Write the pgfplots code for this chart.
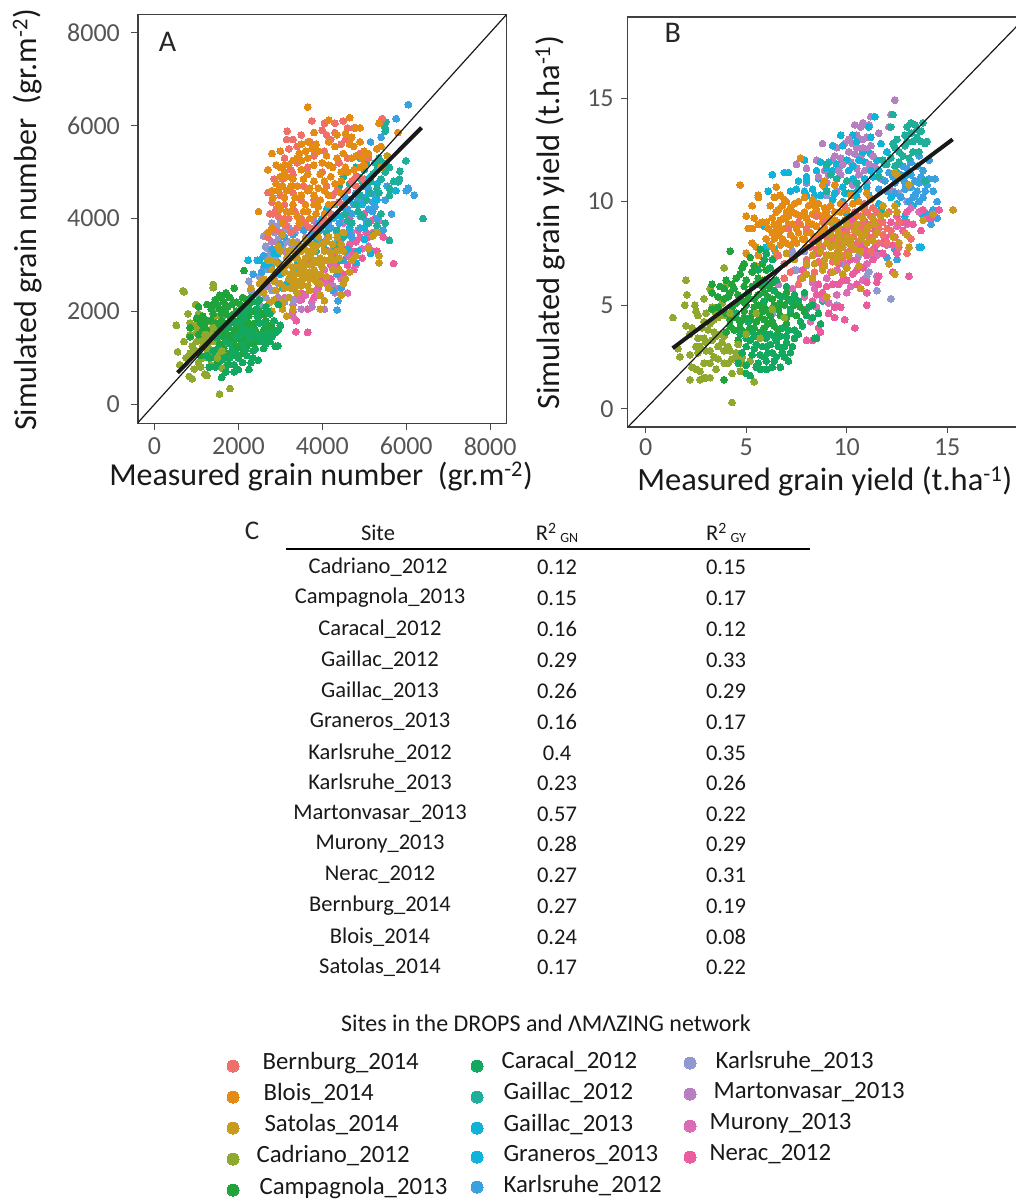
\documentclass[border=0pt]{standalone}
\usepackage{fontspec}
\setmainfont{Carlito}
\usepackage{pgfplots}
\pgfplotsset{compat=1.18}
\definecolor{cBer}{HTML}{EF6F6A}\definecolor{cBlo}{HTML}{E38B12}\definecolor{cSat}{HTML}{C89B1F}
\definecolor{cCad}{HTML}{8FA82E}\definecolor{cCam}{HTML}{1FA33A}\definecolor{cCar}{HTML}{12A85E}
\definecolor{cG12}{HTML}{1FAE9A}\definecolor{cG13}{HTML}{10B3D6}\definecolor{cGra}{HTML}{10B3DC}
\definecolor{cK12}{HTML}{3BA0E0}\definecolor{cK13}{HTML}{9098D0}\definecolor{cMar}{HTML}{B57FC0}
\definecolor{cMur}{HTML}{DB6BB5}\definecolor{cNer}{HTML}{EB5C9E}
\definecolor{tickgrey}{HTML}{555555}
\pgfplotsset{
 pt/.style={only marks,color=#1,mark=*,mark size=3.4pt,mark options={draw=#1,fill=#1,line width=0pt}},
 swatch/.style={only marks,color=#1,mark=*,mark size=6pt,mark options={draw=#1,fill=#1,line width=0pt}},
 panel/.style={scale only axis,axis line style={draw=black!75,line width=1.3pt},
  tick style={draw=black!70,line width=0.9pt},tick align=outside,major tick length=6.5pt,
  xtick pos=bottom,ytick pos=left,clip=true,clip mode=individual,
  /pgf/number format/assume math mode=true,/pgf/number format/set thousands separator={},
  tick label style={font=\fontsize{26}{30}\selectfont,text=tickgrey},
  label style={font=\fontsize{32.5}{38}\selectfont,anchor=center,text=black!90}},
}
\newcommand{\tb}[2]{\node[anchor=center,font=\fontsize{22.5}{26}\selectfont,text=black!90] at (axis cs:#1) {#2};}
\newcommand{\lgd}[2]{\node[anchor=west,font=\fontsize{24.8}{29}\selectfont,text=black!90] at (axis cs:#1) {#2};}
\begin{document}
\begin{tikzpicture}[x=1pt,y=1pt]
\path[use as bounding box] (0,0) rectangle (1016pt,1201pt);
\begin{axis}[panel,at={(137.9pt,777.7pt)},anchor=south west,width=368.5pt,height=409pt,
 xmin=-396,xmax=8387,ymin=-409,ymax=8396,xtick={0,2000,4000,6000,8000},ytick={0,2000,4000,6000,8000},
 yticklabel style={xshift=-8pt},xticklabel style={yshift=-4pt},
 label style={font=\fontsize{32}{38}\selectfont},
 xlabel={Measured grain number\ \ (gr.m\textsuperscript{-2})},ylabel={Simulated grain number\ \ (gr.m\textsuperscript{-2})},
 xlabel style={at={(axis description cs:0.497,-0.131)}},ylabel style={at={(axis description cs:-0.30,0.497)}}]
\addplot[pt=cNer] coordinates {(3370,1560)(3650,1550)(3380,1800)(5700,3030)(3300,2000)(3500,2400)(3650,2050)(2800,2000)(4300,3200)(4500,2800)(4600,3700)(4800,3500)(5000,4100)(5300,3300)(5450,3600)(5350,3700)(3900,2500)(4200,2700)(4450,3400)(4700,3300)(4900,3600)(4150,3300)(5050,3700)(4350,3700)(4650,4000)(5150,3950)(3700,3100)(3000,2200)(3800,2800)(4000,3100)(4750,2900)
(4650,3450)(4850,3750)(4950,3150)(5100,3600)(4350,2950)(4600,3000)(4200,3000)(4050,2700)(3900,2750)(5200,3300)(5250,4000)(4400,3500)(4750,3150)(3800,2300)(3500,2250)(3300,2500)};
\addplot[pt=cMur] coordinates {(3300,1900)(3450,2250)(3600,2350)(3750,2200)(3900,2350)(4100,2600)(4300,2500)(4450,2700)(4600,3200)(4800,3000)(4950,3350)(5100,3400)(5200,3700)(5350,3950)(4700,3700)(4500,3900)(3400,2300)(3850,2450)(4250,3000)(4050,2900)(3100,2300)(4600,2400)(4500,2650)};
\addplot[pt=cMar] coordinates {(2700,2550)(2950,2300)(2850,2700)(3050,2500)(3300,2150)(3500,2050)(3750,2100)(4050,2050)(4300,2400)(4250,2550)(3100,3300)(2800,3500)(3600,3600)(3800,3950)(4200,3300)(4400,3400)(4100,3550)};
\addplot[pt=cK13] coordinates {(2600,2500)(2250,2650)(2300,2450)(2500,2150)(2600,3620)(2650,3400)(2800,3900)(2850,3700)(3000,3900)(2950,3550)(2700,2900)(2900,3100)(2750,3250)(3150,3500)(3350,3700)(3300,3400)(3500,3900)(3200,3800)(3450,3300)(3650,3500)(2450,2350)(2950,2600)(3100,2200)(3300,2250)
(2500,2750)(2600,2950)(2700,3350)(2900,3800)(3050,3400)(3200,3500)(3400,3500)(3600,3800)(3750,3700)(2800,2450)(2650,2300)(3100,3750)};
\addplot[pt=cK12] coordinates {(6050,6450)(5760,6150)(5150,5650)(5400,5750)(6000,4600)(6050,4650)(6190,4500)(5500,4400)(5550,4700)(5650,4100)(5250,4500)(5100,4200)(4900,4050)(4700,4100)(4400,3900)(4200,3800)(4550,4450)(4800,4550)(5000,4700)(5300,4000)(5450,3750)(3950,3500)(3700,3600)(3450,3400)(3200,3150)(2950,3050)(2750,2900)(2450,3100)(4350,2030)(4370,2230)(4250,2450)(4450,2500)(4350,2800)(4500,3100)(4700,3600)(3900,3900)(5200,4350)
(3300,3650)(3550,3750)(3800,3700)(3950,3750)(4050,3850)(4150,3950)(4300,4050)(4500,4250)(4600,4200)(4750,4300)(4850,4400)(5000,4450)(5100,4650)(5250,4250)(4900,3800)(5050,3950)(5200,4150)(4650,3650)(2600,3200)(2800,3350)(3000,3450)(3100,3600)(2350,2800)(2550,2850)};
\addplot[pt=cG13] coordinates {(2780,3000)(2950,3250)(3200,3300)(3400,2850)(3000,2800)(3150,2600)(4600,3350)(4850,3300)(4300,4300)(4100,4200)(3850,3600)(5000,4850)(5300,4750)(5500,5100)(5750,4600)(4900,5300)(4650,4400)(4050,3350)(4300,3450)(5000,3800)(5150,3250)(2500,3100)(2230,3100)};
\addplot[pt=cGra] coordinates {(2620,3000)(3050,2500)(3500,2600)(3800,3450)(4250,4000)(4450,4050)(4650,3800)(4950,4300)(5150,4900)(5350,5250)(3400,3000)(2850,3250)(4550,3300)(4800,3050)(5000,3550)(5300,4400)(4000,4000)(5100,4550)};
\addplot[pt=cG12] coordinates {(6400,4000)(5600,3530)(5500,5950)(5510,6080)(5500,5880)(5990,5240)(5850,5020)(5840,4850)(5810,4790)(5600,4500)(5700,4800)(5600,5100)(5500,5000)(5400,4850)(5250,5200)(5000,5050)(4800,5100)(4500,4900)(4400,4700)(4800,4300)(4900,4500)(5150,4800)(5300,4650)(5100,3900)(5300,3850)(5500,3900)(4950,4050)(5200,3650)(4700,3900)(4300,3400)(4500,3600)(4400,3100)(4100,3700)(3850,3300)(5050,4400)(5600,4650)(4600,5000)(5350,5300)
(4650,4750)(4950,4800)(5200,4950)(5300,5050)(5450,5200)(5150,4550)(4550,4100)(4850,4150)(4350,3750)(4600,3950)(5400,4100)(5350,4550)(5050,5200)(4850,4900)};
\addplot[pt=cBer] coordinates {(3750,6100)(3160,5880)(4000,5900)(4050,6050)(4300,6050)(4500,6100)(4600,5950)(4750,5950)(4200,5700)(4450,5600)(4050,5450)(3800,5350)(3400,5550)(3200,5500)(3100,5300)(3400,5200)(3650,5100)(3300,4950)(2850,4850)(3050,4850)(2700,4560)(2800,4350)(2750,4100)(2830,4100)(3000,4500)(3100,4300)(3200,4000)(2850,3750)(2700,3600)(3250,3700)(3500,4000)(3700,3800)(4000,3900)(4200,4100)(4500,4300)(4700,4800)(4250,4500)(3800,4400)(3300,4550)(4400,5200)(4600,5300)(4000,5000)(3550,4700)(5430,6150)(5370,6050)(4900,5400)(5100,5300)(4800,4900)(3350,4150)(3100,4000)
(2950,4050)(3150,5700)(3300,5700)(3500,5800)(3700,5650)(4300,5850)(4550,5700)(4100,5800)(3250,5050)(3500,4400)(4100,4700)(4350,4600)(4600,4600)(2900,4200)(3000,3700)(3150,3850)(3400,3800)(3600,3900)(3850,3800)(4100,3950)(4400,4350)(4800,4700)(4950,4850)};
\addplot[pt=cBlo] coordinates {(3650,6400)(4150,6120)(4650,6170)(4900,5950)(4800,5950)(4550,5830)(3800,5850)(3500,5600)(3600,5450)(3750,5500)(3000,5450)(2800,5400)(2700,5050)(3200,5150)(3150,4900)(3500,5050)(3800,5150)(3950,4950)(3800,4800)(3550,4850)(3250,4700)(3050,4700)(3100,4450)(2800,4600)(2820,4450)(2950,4300)(2480,4150)(3350,4450)(3600,4300)(3800,4500)(4050,4600)(4300,4750)(4250,5100)(4450,5000)(4500,5400)(4750,5550)(4900,5650)(5100,5400)(4700,5300)(5300,5500)(5350,6050)(5800,5850)(5400,5550)(4950,5300)(3400,4050)(3650,4150)(3900,4250)(4150,4300)(3450,3900)(3700,4000)(3250,4150)(4450,4550)(4100,5350)(4300,5550)(3400,5300)(4550,5100)(4750,5050)(4900,5100)(2800,3800)(2700,3700)(3050,3900)
(2900,5150)(3000,5100)(3100,5000)(3300,5250)(3450,5400)(3650,5300)(3850,5600)(4000,5200)(4150,5150)(4050,4800)(4200,4900)(3400,4700)(3650,4600)(3900,4650)(3150,4600)(3300,4300)(3500,4500)(3700,4650)(3950,4400)(4150,4500)(3000,4200)(3150,4150)(3550,4150)(3800,4300)(4050,4100)(3850,4100)(3300,4850)(3650,4950)(4350,5300)(4650,5600)(4600,5000)(4800,5350)(4450,4800)(4250,4300)(3000,4900)(2900,4750)(2950,4600)(3500,5250)(3650,5650)(3900,5450)(4150,5650)(4350,5800)(4700,5750)(5000,5450)(5000,5150)(3100,5150)};
\addplot[pt=cSat] coordinates {(2600,2700)(2800,2900)(2700,3100)(2950,3400)(3050,3650)(2750,3100)(3200,2700)(3000,2600)(2900,2450)(2750,2200)(3050,2200)(3150,1900)(3300,2050)(3400,2400)(3200,2300)(3500,2550)(3700,2450)(3850,2650)(3950,2350)(3950,2050)(4050,2230)(3700,2700)(3500,2800)(3300,2950)(3150,3000)(3400,3150)(3600,3000)(3800,3100)(4000,2950)(3500,3300)(3650,3300)(3850,3400)(4050,3300)(4150,3100)(4250,3450)(4350,3300)(4450,3450)(4500,3700)(4150,3600)(3200,3300)(3300,3500)(3000,3300)(3450,2950)(3550,2700)(3250,2800)(3350,3150)(3600,3550)(4100,2750)(4250,2900)(4400,2900)(4500,2600)(4450,2350)(4550,2700)(4700,3100)(4800,3200)(5350,3200)(5350,3050)(5100,3350)(5200,3620)(5300,3700)(5400,5100)(5550,5350)(2500,2600)(2300,2500)(2800,2000)(3050,2050)
(3000,3000)(3100,2850)(3200,3100)(3300,2650)(3350,2800)(3450,2650)(3550,2900)(3600,2750)(3650,2550)(3700,2850)(3750,3000)(3800,2900)(3850,2800)(3900,3050)(3950,2800)(3400,2550)(3500,3050)(3600,3150)(3700,3200)(3800,3300)(3950,3150)(4050,3100)(3300,3300)(3450,3450)(3550,3400)(3750,3450)(3900,3600)(4000,3450)(4100,3500)(4200,3250)(4300,3100)(4400,3150)(3100,2500)(3250,2500)(2850,2650)(3150,3150)(2900,3050)(4350,3600)(4500,3300)(3950,2600)(4150,2500)(4650,2850)(2600,2400)(2850,2250)};
\addplot[pt=cCad] coordinates {(520,1700)(550,1130)(600,850)(710,2420)(680,2440)(800,1950)(830,600)(900,550)(950,760)(980,2150)(850,1500)(900,1250)(1000,1700)(1050,1950)(1100,1400)(1150,1000)(1200,650)(1250,620)(1300,1200)(1250,1550)(1300,1800)(1400,2050)(1400,2580)(1400,2510)(1350,850)(1450,1350)(1500,1600)(1550,1050)(1600,780)(1550,220)(1800,340)(1650,1300)(1700,1600)(1600,1850)(1700,1100)(1750,900)(1200,1450)(1100,1650)(950,1100)(1000,1350)(1450,1900)(1350,1000)
(700,1350)(850,1750)(1000,1550)(1150,1250)(1100,800)(1050,900)(1250,1100)(1350,1350)(1450,1150)(1150,1750)(750,1000)(850,1100)(1550,1450)(1300,1600)(1700,800)(2000,1000)(2300,1400)};
\addplot[pt=cCam] coordinates {(1900,2500)(1700,2400)(1550,2350)(1800,2300)(1650,2200)(1450,2250)(1250,2150)(1050,2100)(1350,2050)(1550,2050)(1750,2100)(1950,2200)(2100,2300)(1950,2000)(2150,2100)(2300,2200)(1150,1900)(1350,1800)(1600,1800)(1800,1900)(2000,1800)(2250,1900)(2500,2000)(850,1650)(1200,1650)(1450,1550)(1700,1600)(1900,1600)(2150,1700)(2400,1750)(2650,1800)(850,1450)(1050,1500)(1550,1300)(1800,1400)(2050,1400)(2300,1500)(2600,1600)(2800,1650)(1950,1200)(2200,1250)(2450,1350)(2130,2880)(1800,1750)(1600,1950)(2050,1600)(2250,1650)(1650,1450)(1900,1300)(2100,1100)(1100,1050)(1750,1000)(1500,900)
(1000,1850)(1100,1750)(1250,1800)(1400,1950)(1500,1700)(1350,1600)(1450,1750)(1600,1650)(1750,1750)(1850,1850)(1900,1950)(2050,1900)(2150,1950)(2350,2000)(1700,1950)(1500,2150)(1850,2150)(2050,2150)(2200,2250)(1650,2050)(1600,2300)(1400,2150)(1150,1600)(1450,1450)(1600,1500)(1750,1500)(1850,1500)(2000,1700)(2100,1550)(2200,1800)(2300,1700)(2400,1600)(2500,1500)(1500,1200)(1650,1200)(1800,1100)(1900,1050)(2050,1250)(2150,1450)(2350,1300)(2500,1900)(2700,1700)(2600,1950)};
\addplot[pt=cCar] coordinates {(2940,1260)(2880,1250)(2650,1300)(2600,1200)(2470,950)(2350,1150)(2200,1050)(2100,900)(2000,750)(1900,700)(1750,850)(1600,580)(1650,1050)(1300,800)(1450,800)(2100,1300)(2400,1450)(2550,1500)(2800,1450)(2900,1550)(2950,1600)(2850,1800)(2650,2100)(2500,2250)(2250,2050)(2000,1950)(1750,1650)(1500,1450)(1250,1050)(1850,1150)(2250,1400)(2500,1750)(2750,1950)(2150,1850)(1950,1100)(2300,900)(2050,1500)(1800,1300)(1550,1200)(2350,1000)(2650,1400)(2450,2050)(2950,2150)
(1300,1000)(1450,1000)(1600,950)(1700,700)(1800,1000)(1900,850)(2000,1000)(2150,1150)(2250,750)(2400,1200)(2550,1350)(2700,1550)(2600,1750)(2350,1600)(2450,1900)(2150,2000)(1900,1750)(2050,1750)(2200,1550)(1950,1450)(1700,1350)(1400,1150)(2750,1350)(2850,1550)(2700,2000)(2300,2300)(2450,2200)(3000,1700)(2100,1650)};
\addplot[pt=cCad] coordinates {(1200,1500)(1300,1400)(1400,1650)(1150,1350)(1000,1150)(1350,1500)(1500,1000)(1250,1300)(1600,1150)};
\addplot[black!90,line width=1.2pt] coordinates {(-396,-396)(8387,8387)};
\addplot[black!90,line width=4pt] coordinates {(548,680)(6365,5955)};
\node[font=\fontsize{30}{34}\selectfont,text=black!85] at (axis cs:310,7800) {A};
\end{axis}
\begin{axis}[panel,at={(627.7pt,774pt)},anchor=south west,width=403.9pt,height=410pt,
 xmin=-0.896,xmax=19.2,ymin=-0.884,ymax=18.91,xtick={0,5,10,15},ytick={0,5,10,15},
 yticklabel style={xshift=-4pt},xticklabel style={yshift=-2pt},
 xlabel={Measured grain yield (t.ha\textsuperscript{-1})},ylabel={Simulated grain yield (t.ha\textsuperscript{-1})},
 xlabel style={at={(axis description cs:0.488,-0.132)}},ylabel style={at={(axis description cs:-0.192,0.498)}}]
\addplot[pt=cMar] coordinates {(12.4,14.9)(11.2,14.1)(11.1,13.7)(10.8,13.8)(10.4,13.7)(10.7,13.6)(10.5,13.2)(10.6,13.0)(12.2,14.2)(12.1,13.6)(11.6,13.3)(11.0,13.1)(10.3,12.8)(9.5,12.6)(8.8,12.8)(8.5,12.0)(8.9,11.5)(9.3,12.0)(9.7,12.1)(10.1,12.4)(10.5,12.6)(11.0,12.5)(10.7,12.2)(10.2,11.9)(9.7,11.3)(10.5,11.6)(10.9,11.5)(11.4,11.7)(7.5,11.8)(8.0,11.6)(8.0,10.9)(9.0,10.9)(9.5,10.5)(10.3,10.8)(11.0,10.9)(11.7,11.1)(12.3,10.5)(7.3,7.3)(6.6,6.0)(7.4,6.7)(11.5,6.4)};
\addplot[pt=cK13] coordinates {(12.2,5.3)(11.5,5.7)(9.5,5.0)(11.1,6.6)(11.0,6.4)(7.9,7.6)(7.3,7.6)(6.4,7.3)(7.5,6.7)(7.9,6.5)(8.0,6.9)(9.8,7.0)(10.6,7.4)(11.2,7.5)(13.0,10.0)(12.6,10.4)(8.4,10.0)(9.0,10.3)(8.8,9.3)(6.3,4.6)(6.0,6.2)};
\addplot[pt=cK12] coordinates {(14.3,9.6)(14.5,10.0)(14.5,9.2)(14.2,8.9)(14.0,9.4)(13.6,7.8)(12.5,7.2)(12.0,7.3)(14.4,11.1)(14.1,11.1)(13.6,10.9)(13.9,10.5)(14.3,10.5)(13.8,11.5)(14.1,12.0)(13.5,11.7)(13.2,11.3)(12.8,11.1)(12.9,10.6)(12.4,10.9)(12.0,10.5)(11.9,11.0)(11.6,10.6)(13.4,10.3)(13.1,10.0)(13.6,10.0)(13.2,11.9)(12.8,11.7)
(12.4,10.4)(12.7,10.2)(12.9,10.9)(13.2,10.7)(13.4,11.0)(13.7,11.2)(13.5,10.5)(13.8,10.2)(14.0,10.8)(13.3,10.2)(13.0,11.6)(13.6,12.2)(12.7,11.3)(12.3,11.2)(12.1,11.4)};
\addplot[pt=cG13] coordinates {(6.3,11.3)(7.1,11.4)(7.9,12.0)(8.0,11.2)(7.6,11.0)(7.5,10.6)(7.2,10.5)(8.7,11.9)(9.3,11.5)(9.5,11.8)(9.3,12.7)(9.7,13.2)(10.5,12.9)(10.3,13.2)(11.1,13.6)(11.4,14.1)(11.2,13.1)(11.7,12.8)(11.2,12.3)(11.5,12.0)(10.9,11.9)(10.3,11.1)(9.8,10.7)(10.6,10.6)(11.1,10.3)(8.3,10.6)(8.7,10.3)(9.3,10.1)(9.8,10.0)(10.5,10.2)(6.1,10.5)(6.3,9.2)(5.9,8.8)(6.0,7.8)(6.4,7.7)
(8.6,11.1)(9.0,11.6)(9.6,11.6)(10.0,12.0)(10.1,11.5)(10.3,11.7)(10.8,12.4)(10.9,11.1)(11.3,11.2)(11.0,10.7)(10.4,10.4)(9.9,10.4)(9.4,10.4)(8.9,10.7)(8.4,10.3)(8.0,10.3)(11.6,11.5)(11.9,11.8)(12.0,12.4)};
\addplot[pt=cMar] coordinates {(9.9,12.8)(10.1,13.0)(10.8,13.0)(10.4,12.3)(10.8,12.6)(11.2,12.7)(11.3,12.2)(9.8,11.8)(9.4,12.2)(9.1,11.3)(9.6,11.5)(10.6,11.3)(11.1,11.8)(8.6,11.2)};
\addplot[pt=cGra] coordinates {(8.0,11.0)(8.5,11.5)(7.9,10.5)(9.1,11.9)(9.8,12.7)(10.6,12.0)(11.2,11.5)(12.2,10.2)(10.0,9.4)(9.5,9.0)(12.5,9.9)(12.9,9.3)(13.3,9.8)(13.8,9.3)(12.4,7.7)(13.7,7.8)(13.0,11.3)(12.5,11.4)(6.9,11.4)(11.6,9.9)};
\addplot[pt=cG12] coordinates {(12.3,14.2)(12.2,13.6)(13.0,13.6)(13.2,13.8)(13.4,13.7)(13.8,13.8)(13.5,13.5)(12.9,13.2)(12.5,13.0)(13.0,12.9)(13.5,13.1)(13.9,12.8)(14.0,12.9)(13.7,12.9)(12.3,12.8)(12.6,12.4)(12.2,12.1)(12.8,12.2)(13.3,12.4)(12.4,11.7)(11.6,11.2)(10.1,10.4)(9.5,11.1)(9.0,10.5)(9.2,11.3)(11.7,9.6)(11.5,7.5)(8.8,5.2)(13.9,11.0)
(12.4,12.6)(12.9,12.7)(13.3,12.9)(13.6,12.4)(13.1,12.1)(12.6,11.9)(12.0,11.8)(11.8,12.0)(13.7,13.4)(13.2,13.3)(10.5,10.9)(10.0,11.0)(9.0,11.8)};
\addplot[pt=cBlo] coordinates {(4.7,10.8)(5.6,10.2)(5.6,10.3)(5.3,9.8)(6.5,10.7)(6.7,10.3)(6.4,10.2)(6.9,10.1)(7.7,12.1)(5.0,9.3)(5.4,9.2)(5.1,8.7)(5.3,8.7)(5.6,8.9)(5.8,9.0)(5.3,8.0)(5.5,7.8)(5.0,7.5)(5.6,7.4)(6.2,9.8)(6.5,9.5)(6.8,9.8)(7.2,9.7)(7.6,10.0)(7.9,10.2)(8.3,10.1)(8.6,9.9)(8.9,9.7)(6.3,9.2)(6.7,9.1)(7.1,9.3)(7.5,9.4)(7.9,9.5)(8.3,9.4)(8.7,9.3)(9.1,9.2)(6.1,8.7)(6.5,8.6)(6.9,8.7)(7.3,8.9)(7.7,8.9)(8.1,9.0)(8.5,8.8)(8.9,8.7)(6.0,8.2)(6.4,8.2)(6.8,8.2)(7.2,8.4)(7.6,8.5)(8.0,8.5)(8.4,8.3)(6.3,7.8)(6.7,7.9)(7.2,7.9)(5.5,6.9)(5.8,6.2)(6.5,7.5)(8.8,10.8)(8.9,11.0)(9.4,10.8)(10.2,10.3)(10.6,10.0)(10.9,9.6)(11.2,10.1)(11.0,10.4)(9.7,9.5)(9.4,9.1)(10.1,9.1)(10.5,9.3)
(6.0,9.0)(6.3,8.5)(6.6,8.9)(6.9,9.2)(7.1,8.9)(7.3,9.5)(7.5,8.7)(7.7,9.3)(7.9,8.2)(8.0,9.2)(8.2,8.5)(8.3,8.9)(8.5,9.6)(8.7,8.5)(8.8,9.0)(9.0,9.5)(6.4,8.9)(6.6,8.4)(6.2,7.9)(6.7,8.6)(7.0,8.0)(7.4,8.2)(7.5,8.0)(7.8,8.2)(7.0,9.5)(6.6,9.6)(7.4,9.9)(7.0,10.0)(8.1,9.8)(8.4,9.8)(8.9,9.4)(9.2,9.8)(9.4,9.5)(9.7,9.9)(10.0,9.6)(10.3,9.9)(8.0,7.8)};
\addplot[pt=cMur] coordinates {(8.0,4.8)(8.2,4.2)(8.5,4.9)(8.8,5.3)(9.1,5.1)(9.5,5.5)(10.0,5.6)(10.2,5.9)(9.0,6.3)(9.5,6.7)(10.0,7.0)(10.5,7.2)(11.0,7.0)(11.5,7.4)(12.0,7.9)(12.5,8.8)(13.0,8.9)(8.3,6.1)(7.7,6.3)(7.3,5.8)(7.9,5.4)(8.4,5.8)(10.8,6.2)(13.2,9.7)(13.6,9.5)};
\addplot[pt=cNer] coordinates {(10.4,3.9)(9.9,4.3)(8.3,3.3)(8.6,3.9)(8.7,3.7)(9.1,4.6)(9.4,4.4)(9.4,4.9)(9.7,4.9)(10.5,6.0)(11.0,5.0)(11.0,5.6)(11.5,6.1)(11.6,6.4)(12.3,6.6)(13.1,6.4)(13.2,8.2)(13.7,8.6)(14.0,9.2)(14.2,9.2)(14.6,9.6)(13.8,9.6)(13.3,8.9)(12.8,8.6)(12.3,7.9)(11.8,7.5)(11.3,7.2)(10.8,6.8)(10.3,6.5)(9.8,6.2)(9.3,6.0)(8.8,5.6)(8.3,5.2)(7.8,6.7)(8.6,7.5)(9.2,8.0)(9.8,8.6)(10.3,9.1)(10.9,9.0)(11.4,8.6)(11.9,8.2)(12.5,9.3)(13.0,9.5)(8.0,3.3)
(9.6,6.0)(10.0,6.2)(10.5,6.7)(11.0,7.4)(11.4,7.8)(11.8,8.0)(12.2,8.4)(12.7,9.0)(12.2,9.0)(13.0,9.0)(8.6,6.0)(9.2,6.6)(9.0,5.9)(8.5,5.5)(9.6,7.0)(10.2,7.2)(10.7,7.9)(10.9,7.7)(12.5,7.5)(11.0,6.1)};
\addplot[pt=cBer] coordinates {(6.6,7.4)(6.9,7.0)(7.2,6.6)(6.9,6.3)(7.6,6.0)(8.0,7.2)(8.2,7.8)(8.6,8.2)(9.0,8.3)(9.3,8.7)(9.6,8.0)(10.0,8.5)(10.4,8.8)(10.8,8.9)(11.2,9.3)(11.5,9.0)(11.1,8.3)(10.6,8.1)(10.2,7.7)(9.8,7.3)(9.3,7.1)(8.8,6.9)(8.4,6.6)(8.0,8.7)(7.6,9.0)(7.1,8.7)(8.5,9.3)(8.9,9.0)(9.9,9.8)(10.4,9.5)(10.9,9.9)(11.3,9.7)(12.1,9.5)(12.6,9.0)(12.9,8.5)(13.2,8.2)(12.4,8.3)(12.0,8.7)(11.6,8.0)(11.2,7.6)(13.0,7.5)(12.6,7.8)
(8.3,8.1)(8.5,7.7)(8.8,7.8)(9.1,8.2)(9.4,8.2)(9.7,8.4)(9.9,8.2)(10.1,8.8)(10.3,8.3)(10.5,8.5)(10.7,8.7)(11.0,8.6)(11.2,8.9)(11.4,8.4)(11.6,8.7)(11.8,8.4)(12.0,8.0)(12.2,8.6)(10.7,9.3)(11.0,9.5)(11.5,9.5)(11.8,9.0)(10.4,7.9)(10.0,7.5)(9.5,7.5)(9.0,7.4)(8.6,7.1)};
\addplot[pt=cSat] coordinates {(15.3,9.6)(14.3,9.4)(13.8,9.1)(12.4,6.5)(12.1,7.0)(13.1,7.8)(13.0,8.4)(12.6,8.0)(12.3,8.3)(12.0,9.4)(12.4,9.8)(12.5,9.5)(11.8,9.8)(12.4,11.4)(12.5,11.3)(13.1,10.8)(7.0,7.5)(7.4,7.2)(8.0,7.0)(8.3,7.4)(8.7,7.6)(8.9,7.2)(9.2,7.8)(9.6,7.7)(9.9,8.0)(10.2,8.2)(10.6,8.5)(11.0,8.7)(11.4,8.9)(11.7,9.3)(9.2,8.4)(9.6,8.5)(10.0,8.9)(10.5,8.9)(9.5,7.1)(10.0,6.8)(9.8,6.5)(10.6,6.9)(9.3,6.6)(8.8,6.7)(8.3,6.3)(7.8,6.3)(10.7,5.8)(9.0,5.4)(11.0,8.0)(10.7,7.6)
(8.6,8.0)(9.0,8.0)(9.4,7.9)(9.6,8.2)(9.8,7.8)(10.0,8.3)(10.2,7.9)(10.4,8.6)(10.7,8.2)(10.9,8.4)(11.1,8.8)(11.3,8.1)(11.5,8.5)(9.4,7.4)(9.7,7.4)(10.1,7.4)(10.4,7.7)(8.9,6.9)(9.1,7.4)(8.4,7.0)(8.0,6.5)(9.6,8.8)(9.2,9.0)(9.9,9.1)(10.8,9.2)(11.3,9.2)};
\addplot[pt=cCad] coordinates {(1.35,4.4)(2.0,6.2)(2.05,5.5)(1.95,5.0)(2.45,5.0)(2.9,5.3)(2.5,4.7)(2.0,4.0)(2.3,3.9)(2.6,4.5)(3.0,4.6)(3.2,5.8)(1.6,2.9)(1.7,2.5)(2.2,2.6)(2.5,3.0)(2.6,2.7)(3.2,2.8)(2.3,2.0)(2.5,1.9)(2.7,1.8)(2.9,1.5)(2.2,1.4)(2.7,1.4)(3.0,1.5)(2.9,2.2)(3.2,2.2)(3.6,2.4)(3.5,1.9)(4.3,0.3)(5.4,1.3)(4.7,1.8)(4.3,1.7)(3.1,3.8)(3.5,3.5)(3.8,3.2)(4.1,3.0)(3.4,4.3)(3.9,4.5)(2.9,3.4)(3.6,3.0)(4.3,2.4)(4.8,2.5)(5.2,2.3)(4.6,3.2)(3.8,5.1)(4.0,6.0)(3.9,6.8)(3.3,4.9)
(2.2,3.6)(2.6,3.4)(2.8,3.9)(3.0,3.2)(3.3,3.3)(3.4,3.7)(3.7,3.6)(3.9,3.5)(2.9,4.2)(3.2,4.1)(3.5,4.6)(2.7,3.0)(3.0,2.8)(3.4,2.5)(3.9,2.8)(4.2,2.8)(4.5,2.7)(4.6,2.4)(3.9,2.2)(4.1,2.2)(4.8,2.2)(3.2,1.5)};
\addplot[pt=cCam] coordinates {(4.2,7.6)(4.9,7.0)(5.2,7.3)(5.8,7.0)(6.0,6.7)(4.7,6.5)(5.3,6.6)(5.6,6.3)(4.0,6.2)(3.3,6.0)(3.3,5.6)(4.4,5.8)(4.9,5.9)(5.3,5.9)(5.8,5.9)(6.2,5.8)(3.6,5.4)(4.1,5.4)(4.6,5.5)(5.1,5.3)(5.6,5.5)(6.1,5.4)(6.6,5.5)(7.0,5.6)(3.3,4.8)(4.3,4.9)(4.9,4.7)(5.4,4.9)(5.9,4.9)(6.4,5.0)(6.9,5.0)(7.4,5.0)(7.7,4.9)(4.2,4.3)(4.7,4.2)(5.2,4.4)(5.7,4.4)(6.2,4.5)(6.7,4.5)(7.2,4.6)(4.4,3.8)(4.9,3.7)(5.4,3.9)(5.9,3.9)(6.4,4.0)(7.0,4.1)(3.9,1.4)(4.0,3.7)(4.6,3.3)
(3.6,4.9)(3.9,5.3)(4.2,5.6)(4.5,5.1)(4.8,5.2)(5.1,5.6)(5.4,5.3)(5.6,5.0)(5.9,5.6)(6.3,5.3)(6.7,5.1)(7.1,5.3)(7.4,5.3)(4.0,4.6)(4.5,4.4)(4.9,4.4)(5.3,4.6)(5.5,4.2)(5.9,4.3)(6.3,4.2)(6.6,4.8)(7.0,4.4)(7.5,4.5)(7.9,4.7)(4.2,4.0)(4.7,3.9)(5.2,3.9)(5.7,3.7)(6.1,4.1)(6.6,3.8)(4.5,6.3)(5.0,6.2)(5.5,6.0)(5.9,6.2)(6.3,6.1)(4.3,6.0)(3.7,5.9)(3.9,5.8)(4.8,6.8)(5.4,6.9)(5.0,5.0)(5.8,4.7)(6.1,4.7)};
\addplot[pt=cCar] coordinates {(5.2,1.6)(5.0,1.7)(5.0,2.1)(4.6,2.2)(5.5,2.0)(5.7,1.9)(6.0,1.9)(6.3,2.0)(6.7,2.0)(7.1,2.3)(6.5,2.5)(6.0,2.3)(5.7,2.6)(5.3,2.6)(6.1,2.7)(6.8,2.7)(6.9,3.0)(7.3,3.0)(7.4,3.4)(7.0,3.5)(6.5,3.3)(6.0,3.0)(5.5,3.1)(5.0,3.0)(5.6,3.5)(6.2,3.6)(6.8,3.9)(7.6,3.6)(8.4,3.4)(8.5,3.4)(8.3,4.4)(8.6,4.6)(8.7,4.1)(8.0,4.5)(7.9,5.6)(7.4,5.5)(7.0,5.9)(6.5,6.2)(6.2,6.8)(5.7,7.7)(6.0,7.5)(6.3,7.2)(7.7,4.2)(7.2,4.8)(5.9,5.2)(5.1,4.2)(4.5,4.6)
(4.8,2.7)(5.2,3.3)(5.4,2.9)(5.8,3.0)(6.2,3.1)(6.6,3.0)(6.3,2.7)(5.9,2.5)(5.6,2.2)(6.4,2.3)(6.9,2.5)(7.2,2.7)(7.0,3.2)(6.7,3.5)(6.0,3.4)(5.4,3.5)(5.0,3.4)(4.7,3.6)(5.3,3.7)(5.9,3.6)(6.4,3.5)(7.1,3.8)(7.4,3.8)(7.8,4.0)(8.1,4.9)(8.3,5.0)(7.6,5.2)(7.2,5.2)(6.8,5.4)(6.4,5.7)(6.0,6.0)(5.6,6.7)(5.9,7.2)};
\addplot[pt=cCad] coordinates {(4.2,4.6)(3.6,4.4)(5.0,3.6)(5.5,4.6)(6.3,4.8)(6.9,4.4)(5.7,3.4)(4.6,3.1)};
\addplot[black!90,line width=1.2pt] coordinates {(-0.884,-0.884)(18.91,18.91)};
\addplot[black!90,line width=4pt] coordinates {(1.34,2.92)(15.27,13.0)};
\node[font=\fontsize{30}{34}\selectfont,text=black!85] at (axis cs:1.35,18.15) {B};
\end{axis}
\begin{axis}[hide axis,scale only axis,at={(0pt,0pt)},anchor=south west,width=1016pt,height=1201pt,
 xmin=0,xmax=1016,ymin=0,ymax=1201,y dir=reverse,clip=false]
\addplot[black,line width=1.2pt] coordinates {(286,549)(810,549)};
\node[font=\fontsize{27}{32}\selectfont,text=black!85] at (axis cs:252,531) {C};
\tb{378,533}{Site}\tb{557,533}{R\textsuperscript{2}\,{\fontsize{14}{16}\selectfont\raisebox{-2pt}{GN}}}\tb{726,533}{R\textsuperscript{2}\,{\fontsize{14}{16}\selectfont\raisebox{-2pt}{GY}}}
\tb{378,567}{Cadriano\_2012}\tb{557,567}{0.12}\tb{726,567}{0.15}
\tb{380,598}{Campagnola\_2013}\tb{557,598}{0.15}\tb{726,598}{0.17}
\tb{380,629}{Caracal\_2012}\tb{557,629}{0.16}\tb{726,629}{0.12}
\tb{380,660}{Gaillac\_2012}\tb{557,660}{0.29}\tb{726,660}{0.33}
\tb{380,691}{Gaillac\_2013}\tb{557,691}{0.26}\tb{726,691}{0.29}
\tb{380,722}{Graneros\_2013}\tb{557,722}{0.16}\tb{726,722}{0.17}
\tb{380,753}{Karlsruhe\_2012}\tb{557,753}{0.4}\tb{726,753}{0.35}
\tb{380,783}{Karlsruhe\_2013}\tb{557,783}{0.23}\tb{726,783}{0.26}
\tb{380,814}{Martonvasar\_2013}\tb{557,814}{0.57}\tb{726,814}{0.22}
\tb{380,844}{Murony\_2013}\tb{557,844}{0.28}\tb{726,844}{0.29}
\tb{380,875}{Nerac\_2012}\tb{557,875}{0.27}\tb{726,875}{0.31}
\tb{380,906}{Bernburg\_2014}\tb{557,906}{0.27}\tb{726,906}{0.19}
\tb{380,937}{Blois\_2014}\tb{557,937}{0.24}\tb{726,937}{0.08}
\tb{380,967}{Satolas\_2014}\tb{557,967}{0.17}\tb{726,967}{0.22}
\node[font=\fontsize{24}{28}\selectfont,text=black!90] at (axis cs:546,1023) {Sites in the DROPS and ΛMΛZING network};
\addplot[swatch=cBer] coordinates {(233,1066)};\addplot[swatch=cBlo] coordinates {(233,1097)};\addplot[swatch=cSat] coordinates {(233,1128)};\addplot[swatch=cCad] coordinates {(233,1159)};\addplot[swatch=cCam] coordinates {(233,1190)};
\addplot[swatch=cCar] coordinates {(477,1066)};\addplot[swatch=cG12] coordinates {(477,1097)};\addplot[swatch=cG13] coordinates {(477,1128)};\addplot[swatch=cGra] coordinates {(477,1157)};\addplot[swatch=cK12] coordinates {(477,1187)};
\addplot[swatch=cK13] coordinates {(690,1063)};\addplot[swatch=cMar] coordinates {(690,1094)};\addplot[swatch=cMur] coordinates {(690,1126)};\addplot[swatch=cNer] coordinates {(690,1157)};
\lgd{259,1063}{Bernburg\_2014}\lgd{260,1094}{Blois\_2014}\lgd{261,1125}{Satolas\_2014}\lgd{253,1156}{Cadriano\_2012}\lgd{256,1188}{Campagnola\_2013}
\lgd{498,1062}{Caracal\_2012}\lgd{500,1093}{Gaillac\_2012}\lgd{500,1125}{Gaillac\_2013}\lgd{500,1155}{Graneros\_2013}\lgd{500,1186}{Karlsruhe\_2012}
\lgd{712,1062}{Karlsruhe\_2013}\lgd{710,1092}{Martonvasar\_2013}\lgd{706,1123}{Murony\_2013}\lgd{706,1154}{Nerac\_2012}
\end{axis}
\end{tikzpicture}
\end{document}
